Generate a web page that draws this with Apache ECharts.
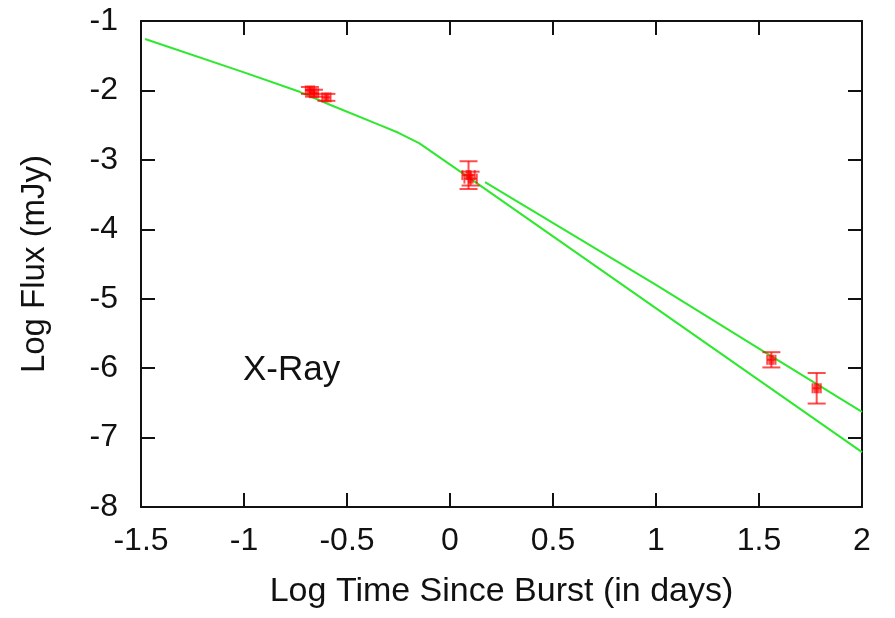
<!DOCTYPE html>
<html>
<head>
<meta charset="utf-8">
<script src="https://cdn.jsdelivr.net/npm/echarts@6/dist/echarts.min.js"></script>
<style>
  html, body { margin: 0; padding: 0; background: #fff; }
  #chart { width: 895px; height: 618px; }
</style>
</head>
<body>
<div id="chart"></div>
<script>
// tick labels
const xTicks = [-1.5, -1, -0.5, 0, 0.5, 1, 1.5, 2]
const yTicks = [-1, -2, -3, -4, -5, -6, -7, -8]

// model curves (log t, log flux)
const modelAX = [-1.48, -1.0, -0.73, -0.58, -0.34, -0.25, -0.15, 0.05, 2.0]
const modelAY = [-1.26, -1.74, -2.02, -2.21, -2.5, -2.61, -2.76, -3.17, -7.21]
const modelBX = [0.17, 1.0, 1.5, 2.0]
const modelBY = [-3.32, -4.8, -5.72, -6.63]

// X-ray observations
const obsX = [-0.68, -0.66, -0.6, 0.09, 0.1, 1.56, 1.78]
const obsY = [-2.0, -2.04, -2.1, -3.22, -3.27, -5.88, -6.29]
const obsYErr = [0.05, 0.05, 0.05, 0.2, 0.1, 0.11, 0.22]
const obsXErr = [0.02, 0.02, 0.02, 0.03, 0.03, 0.02, 0.02]

const chart = echarts.init(document.getElementById("chart"))

const font = "'Liberation Sans', Arial, sans-serif"
const red = "rgba(255,0,0,0.7)"
const green = "#2ee82e"

const axisCommon = {
  axisLine: { show: true, onZero: false, lineStyle: { color: "#111", width: 2 } },
  axisTick: { show: true, inside: true, length: 14, lineStyle: { color: "#111", width: 2 } },
  splitLine: { show: false }
}

const option = {
  animation: false,
  grid: { left: 141, right: 33, top: 21, bottom: 111 },
  xAxis: [
    {
      type: "value",
      min: -1.5,
      max: 2,
      interval: 0.5,
      ...axisCommon,
      axisLabel: {
        color: "#111", fontSize: 32, fontFamily: font, margin: 18,
        formatter: v => String(xTicks.find(t => Math.abs(t - v) < 1e-6) ?? v)
      },
      name: "Log Time Since Burst (in days)",
      nameLocation: "middle",
      nameGap: 68,
      nameTextStyle: { color: "#111", fontSize: 34, fontFamily: font }
    },
    {
      type: "value",
      position: "top",
      min: -1.5,
      max: 2,
      interval: 0.5,
      ...axisCommon,
      axisLabel: { show: false }
    }
  ],
  yAxis: [
    {
      type: "value",
      min: -8,
      max: -1,
      interval: 1,
      ...axisCommon,
      axisLabel: {
        color: "#111", fontSize: 32, fontFamily: font, margin: 23,
        formatter: v => String(yTicks.find(t => Math.abs(t - v) < 1e-6) ?? v)
      },
      name: "Log Flux (mJy)",
      nameLocation: "middle",
      nameGap: 90,
      nameTextStyle: { color: "#111", fontSize: 33, fontFamily: font }
    },
    {
      type: "value",
      position: "right",
      min: -8,
      max: -1,
      interval: 1,
      ...axisCommon,
      axisLabel: { show: false }
    }
  ],
  series: [
    {
      type: "line",
      data: modelAX.map((x, i) => [x, modelAY[i]]),
      showSymbol: false,
      lineStyle: { color: green, width: 2 },
      z: 3
    },
    {
      type: "line",
      data: modelBX.map((x, i) => [x, modelBY[i]]),
      showSymbol: false,
      lineStyle: { color: green, width: 2 },
      z: 3,
      markPoint: {
        symbol: "rect",
        symbolSize: 0,
        data: [{ coord: [-1.005, -6.03] }],
        label: {
          show: true,
          formatter: "X-Ray",
          color: "#111",
          fontSize: 35,
          fontFamily: font,
          position: "right",
          distance: 0
        }
      }
    },
    {
      type: "custom",
      data: obsX.map((x, i) => [x, obsY[i], obsYErr[i], obsXErr[i]]),
      z: 4,
      renderItem: (params, api) => {
        const x = api.value(0)
        const y = api.value(1)
        const ey = api.value(2)
        const ex = api.value(3)
        const c = api.coord([x, y])
        const top = api.coord([x, y + ey])
        const bot = api.coord([x, y - ey])
        const left = api.coord([x - ex, y])
        const right = api.coord([x + ex, y])
        const cap = 9
        const style = { stroke: red, lineWidth: 2 }
        return {
          type: "group",
          children: [
            { type: "line", shape: { x1: top[0], y1: top[1], x2: bot[0], y2: bot[1] }, style },
            { type: "line", shape: { x1: top[0] - cap, y1: top[1], x2: top[0] + cap, y2: top[1] }, style },
            { type: "line", shape: { x1: bot[0] - cap, y1: bot[1], x2: bot[0] + cap, y2: bot[1] }, style },
            { type: "line", shape: { x1: left[0], y1: c[1], x2: right[0], y2: c[1] }, style },
            { type: "line", shape: { x1: left[0], y1: c[1] - 5, x2: left[0], y2: c[1] + 5 }, style },
            { type: "line", shape: { x1: right[0], y1: c[1] - 5, x2: right[0], y2: c[1] + 5 }, style },
            { type: "rect", shape: { x: c[0] - 3, y: c[1] - 5, width: 6, height: 10 }, style: { fill: red } }
          ]
        }
      }
    }
  ]
}

chart.setOption(option)
</script>
</body>
</html>
